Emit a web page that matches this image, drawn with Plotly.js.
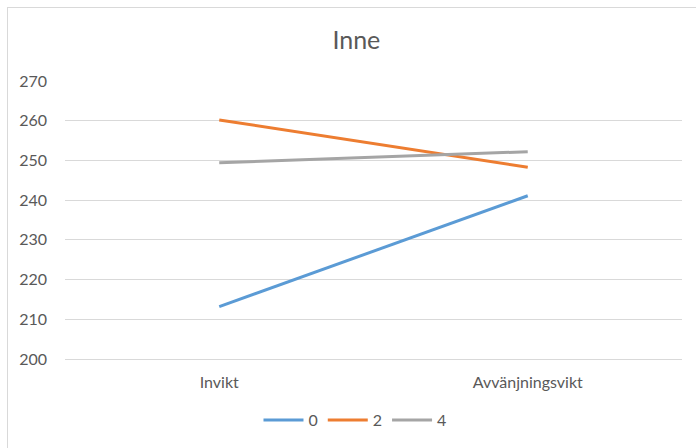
<!DOCTYPE html>
<html>
<head>
<meta charset="utf-8">
<script src="https://cdn.plot.ly/plotly-3.0.1.min.js"></script>
<style>
  html, body { margin: 0; padding: 0; background: #fff; }
  #wrap { position: relative; width: 696px; height: 448px; overflow: hidden; }
  #frame { position: absolute; left: 7px; top: 7px; width: 720px; height: 480px; border-left: 1px solid #D9D9D9; border-top: 1px solid #D9D9D9; pointer-events: none; }
  #chart { position: absolute; left: 0; top: 0; width: 696px; height: 448px; }
</style>
</head>
<body>
<div id="wrap">
  <div id="chart"></div>
  <div id="frame"></div>
</div>
<script>
const categories = ["Invikt", "Avvänjningsvikt"];
const seriesNames = ["0", "2", "4"];
const series0 = [213.2, 241.1];
const series2 = [260.2, 248.3];
const series4 = [249.4, 252.2];
const yTicks = [200, 210, 220, 230, 240, 250, 260, 270];

const colors = ["#5B9BD5", "#ED7D31", "#A5A5A5"];
const values = [series0, series2, series4];

const traces = values.map((v, i) => ({
  type: "scatter",
  mode: "lines",
  x: categories,
  y: v,
  name: seriesNames[i],
  line: { color: colors[i], width: 3 }
}));

const font = { family: "Lato, 'Liberation Sans', sans-serif", size: 16, color: "#595959" };

const layout = {
  width: 696,
  height: 448,
  margin: { l: 65, r: 14, t: 81, b: 88 },
  paper_bgcolor: "#fff",
  plot_bgcolor: "#fff",
  font: font,
  title: {
    text: "Inne",
    font: { family: "Lato, 'Liberation Sans', sans-serif", size: 25, color: "#595959" },
    x: 0.512,
    xanchor: "center",
    y: 0.9096,
    yanchor: "middle"
  },
  xaxis: {
    type: "category",
    range: [-0.5, 1.5],
    showgrid: false,
    zeroline: false,
    showline: true,
    linecolor: "#D9D9D9",
    linewidth: 1,
    ticks: "",
    ticklen: 0,
    ticklabelstandoff: 9,
    tickfont: font,
    fixedrange: true
  },
  yaxis: {
    range: [200, 270],
    tickvals: yTicks,
    ticktext: yTicks.map(String),
    showgrid: true,
    gridcolor: "#D9D9D9",
    gridwidth: 1,
    zeroline: false,
    showline: false,
    ticks: "",
    ticklabelstandoff: 17,
    tickfont: font,
    fixedrange: true
  },
  showlegend: true,
  legend: {
    orientation: "h",
    x: 0.47,
    xanchor: "center",
    y: -0.215,
    yanchor: "middle",
    font: font,
    itemwidth: 40,
    tracegroupgap: 0
  },
  hovermode: false
};

Plotly.newPlot("chart", traces, layout, { displayModeBar: false, staticPlot: true });
</script>
</body>
</html>
